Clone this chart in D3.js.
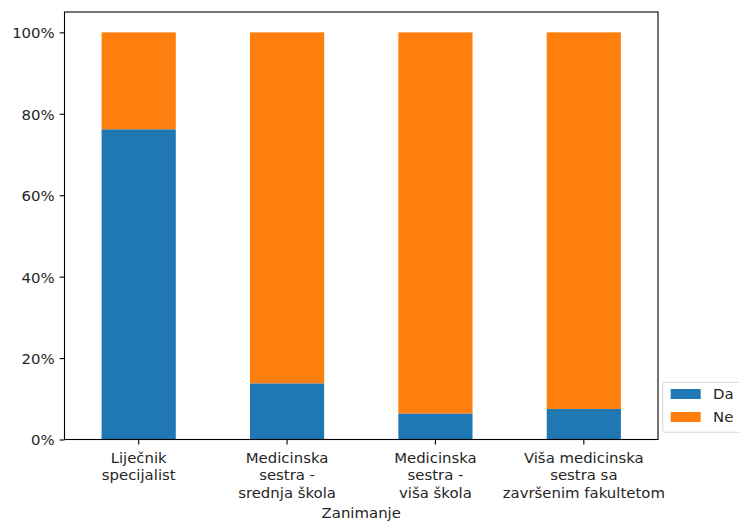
<!DOCTYPE html>
<html>
<head>
<meta charset="utf-8">
<script src="https://cdn.jsdelivr.net/npm/d3@7"></script>
<style>
  html, body { margin: 0; padding: 0; background: #fff; }
  svg { display: block; }
  text { font-family: "DejaVu Sans", sans-serif; fill: #262626; }
</style>
</head>
<body>
<svg id="chart" width="739" height="521"></svg>
<script>
const categories = [
  ["Liječnik", "specijalist"],
  ["Medicinska", "sestra -", "srednja škola"],
  ["Medicinska", "sestra -", "viša škola"],
  ["Viša medicinska", "sestra sa", "završenim fakultetom"]
];
const seriesNames = ["Da", "Ne"];
const daValues = [0.762, 0.138, 0.064, 0.075];
const neValues = daValues.map(v => 1 - v);
const yTicks = [0, 0.2, 0.4, 0.6, 0.8, 1.0];
const xLabel = "Zanimanje";
const colors = ["#1f77b4", "#ff7f0e"];

const svg = d3.select("#chart");
const mLeft = 64.5, mRight = 658, mTop = 12, mBottom = 439.5;
const fs = 14.9;

const x = d3.scaleBand()
  .domain(d3.range(categories.length))
  .range([mLeft, mRight])
  .paddingInner(0.5)
  .paddingOuter(0.25);
const y = d3.scaleLinear().domain([0, 1.05]).range([mBottom, mTop]);

const data = categories.map((c, i) => ({ i, Da: daValues[i], Ne: neValues[i] }));
const stacked = d3.stack().keys(seriesNames)(data);

svg.append("g").selectAll("g")
  .data(stacked)
  .join("g")
  .attr("fill", (d, k) => colors[k])
  .selectAll("rect")
  .data(d => d)
  .join("rect")
  .attr("x", d => x(d.data.i))
  .attr("width", x.bandwidth())
  .attr("y", d => y(d[1]))
  .attr("height", d => y(d[0]) - y(d[1]));

// frame
svg.append("rect")
  .attr("x", mLeft).attr("y", mTop)
  .attr("width", mRight - mLeft).attr("height", mBottom - mTop)
  .attr("fill", "none").attr("stroke", "#000").attr("stroke-width", 1.1);

// y axis
const yAxis = d3.axisLeft(y).tickValues(yTicks)
  .tickFormat(d => Math.round(d * 100) + "%")
  .tickSize(4.9).tickPadding(4.9);
const gy = svg.append("g").attr("transform", `translate(${mLeft},0)`).call(yAxis);
gy.select(".domain").remove();
gy.selectAll(".tick line").attr("stroke", "#000").attr("stroke-width", 1.1);
gy.selectAll(".tick text").attr("font-size", fs).attr("font-family", "DejaVu Sans").attr("fill", "#262626")
  .attr("dy", "0.36em");

// x axis
const xAxis = d3.axisBottom(x).tickSize(4.9).tickFormat("");
const gx = svg.append("g").attr("transform", `translate(0,${mBottom})`).call(xAxis);
gx.select(".domain").remove();
gx.selectAll(".tick line").attr("stroke", "#000").attr("stroke-width", 1.1);
gx.selectAll(".tick").each(function(d) {
  const t = d3.select(this).append("text")
    .attr("text-anchor", "middle")
    .attr("font-size", fs)
    .attr("fill", "#262626")
    .attr("font-family", "DejaVu Sans");
  categories[d].forEach((line, j) => {
    t.append("tspan").attr("x", 0).attr("y", 23.5 + j * 17.3).text(line);
  });
});

svg.append("text")
  .attr("x", (mLeft + mRight) / 2)
  .attr("y", 518)
  .attr("text-anchor", "middle")
  .attr("font-size", fs)
  .text(xLabel);

// legend
const lg = svg.append("g");
lg.append("rect")
  .attr("x", 662.7).attr("y", 382.3)
  .attr("width", 80).attr("height", 50)
  .attr("rx", 3)
  .attr("fill", "#fff").attr("fill-opacity", 0.8)
  .attr("stroke", "#d6d6d6").attr("stroke-width", 1);
seriesNames.forEach((s, k) => {
  const cy = 394 + k * 23;
  lg.append("rect").attr("x", 670.7).attr("y", cy - 5).attr("width", 30).attr("height", 10).attr("fill", colors[k]);
  lg.append("text").attr("x", 713).attr("y", cy + 5.3).attr("font-size", fs).text(s);
});
</script>
</body>
</html>
